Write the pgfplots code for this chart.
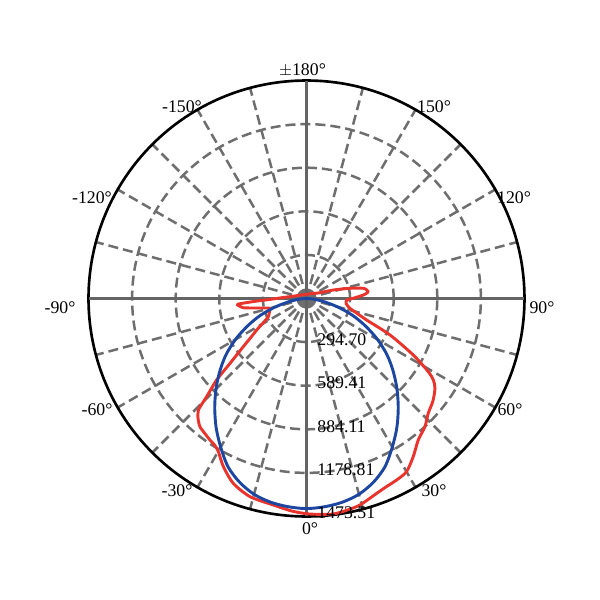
\documentclass[border=0pt]{standalone}
\usepackage{pgfplots}
\pgfplotsset{compat=1.18}
\usepgfplotslibrary{polar}
\usepackage{fontspec}
\setmainfont{Liberation Serif}
\definecolor{gridgray}{RGB}{110,110,110}
\definecolor{axgray}{RGB}{100,100,100}
\definecolor{curvered}{RGB}{232,52,44}
\definecolor{curveblue}{RGB}{28,70,160}
\begin{document}
\begin{tikzpicture}
\begin{polaraxis}[
    scale only axis,
    width=313.9pt, height=313.9pt,
    ymin=0, ymax=1473.51,
    xtick={15,30,45,60,75,105,120,135,150,165,195,210,225,240,255,285,300,315,330,345},
    ytick={294.70,589.41,884.11,1178.81},
    xticklabels={}, yticklabels={},
    major tick length=0pt,
    grid=major,
    major grid style={gridgray, line width=1.8pt, dash pattern=on 7.2pt off 3.6pt},
    x axis line style={black, line width=1.9pt},
    y axis line style={draw=none},
    clip=false,
]
% solid axes at 0/180 and +-90
\draw[axgray, line width=1.5pt] (axis cs:0,1473.51) -- (axis cs:180,1473.51);
\draw[axgray, line width=1.5pt] (axis cs:90,1473.51) -- (axis cs:270,1473.51);

% red curve, angle 0 = downward, positive to the right
\addplot[curvered, line width=2.1pt, smooth, tension=0.45, x filter/.expression={x-90}] coordinates {
(-180,28) (-165,28) (-150,30) (-135,35) (-120,46) (-105,72) (-100,91) (-95,126)
(-92,165) (-90,204) (-88,273) (-87,340) (-86,412) (-85.3,465) (-84.6,468) (-83.5,455)
(-81.7,432) (-80,370) (-78,309) (-76,265) (-74.5,255) (-72,262) (-68,272) (-64.5,286)
(-61,330) (-57.7,398) (-55,460) (-52.7,537) (-49.7,678) (-47.8,820) (-45.5,946)
(-44.1,1050) (-42,1095) (-39.7,1127) (-37,1142) (-34.3,1158) (-32,1170) (-29.9,1195)
(-26.3,1268) (-21.6,1344) (-15.9,1393) (-9.1,1414) (-4,1440) (0,1455) (3.5,1462)
(7.1,1468) (10.5,1458) (14.5,1442) (19.8,1400) (23,1382) (26.4,1370) (30,1352)
(34,1290) (38.3,1219) (42.7,1180) (46.7,1131) (51,1100) (55,1060) (57.3,1019)
(59,960) (62.1,817) (66.4,616) (70.3,432) (74,350) (77.3,301) (82,272) (85,268)
(87.9,272) (90.5,320) (93.5,385) (95.3,412) (96.5,418) (98,412) (100.2,390)
(103.2,302) (107.6,190) (113.8,95) (120,70) (135,47) (150,36) (165,30) (180,28)
};

% blue curve
\addplot[curveblue, line width=2.1pt, smooth, x filter/.expression={x-90}] coordinates {
(-90,0) (-85,45) (-80,115) (-75,215) (-70,330) (-65,440) (-60,555) (-55,665)
(-50,765) (-45,865) (-40,965) (-35,1065) (-30,1160) (-25,1255) (-20,1322) (-15,1370)
(-10,1398) (-5,1413) (0,1420) (5,1413) (10,1398) (15,1370) (20,1322) (25,1255)
(30,1160) (35,1065) (40,965) (45,865) (50,765) (55,665) (60,555) (65,440)
(70,330) (75,215) (80,115) (85,45) (90,0)
};
\coordinate (O) at (axis cs:0,0);
\end{polaraxis}

\pgfresetboundingbox
\begin{scope}[shift={(O)}, x=0.72pt, y=-0.72pt, font=\fontsize{12.8}{14}\selectfont]
\path[use as bounding box] (-306.5,-298.5) rectangle (293.5,301.5);
% angle labels
\node at (-4,-228) {$\pm$180°};
\node at (127.5,-192) {150°};
\node at (-124.5,-192) {-150°};
\node at (207.5,-100.5) {120°};
\node at (-214.5,-100.5) {-120°};
\node at (235.5,9.5) {90°};
\node at (-246.5,9.5) {-90°};
\node at (203.5,111.5) {60°};
\node at (-209.5,111.5) {-60°};
\node at (127.5,192.5) {30°};
\node at (-129.5,192.5) {-30°};
\node at (3.5,230.5) {0°};
% radial labels
\node[anchor=west] at (6,41.5) {294.70};
\node[anchor=west] at (6,84.5) {589.41};
\node[anchor=west] at (6,128) {884.11};
\node[anchor=west] at (6,171.5) {1178.81};
\node[anchor=west] at (6,214) {1473.51};
\end{scope}
\end{tikzpicture}
\end{document}
